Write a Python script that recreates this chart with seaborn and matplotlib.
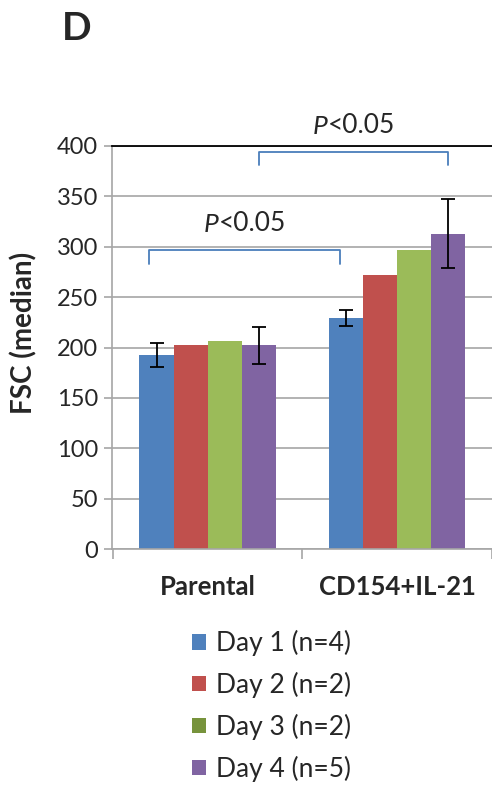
import matplotlib
matplotlib.use("Agg")
import matplotlib.pyplot as plt
import seaborn as sns
import pandas as pd
from matplotlib.patches import Patch
from matplotlib.transforms import offset_copy

sns.set_theme(style="white")
plt.rcParams['font.family'] = ['Lato', 'DejaVu Sans']

categories = ["Parental", "CD154+IL-21"]
days = ["Day 1 (n=4)", "Day 2 (n=2)", "Day 3 (n=2)", "Day 4 (n=5)"]
parental_vals = [192.5, 202, 206.5, 202]
cd154_vals = [229, 272, 296.5, 313]
parental_err = [11.5, 0, 0, 18]
cd154_err = [8, 0, 0, 34.5]
colors = ["#4F81BD", "#C0504D", "#9BBB59", "#8064A2"]
legend_colors = ["#4F81BD", "#C0504D", "#77933C", "#8064A2"]
yticks = [0, 50, 100, 150, 200, 250, 300, 350, 400]
sig_p, sig_rest = "P", "<0.05"
bracket1 = (296.5, 283)
bracket2 = (394, 381)

rows = []
for cat, vals, errs in [(categories[0], parental_vals, parental_err),
                        (categories[1], cd154_vals, cd154_err)]:
    for d, v, e in zip(days, vals, errs):
        rows.append({"group": cat, "day": d, "value": v, "err": e})
df = pd.DataFrame(rows)

fig = plt.figure(figsize=(4.92, 7.86), dpi=100)
ax = fig.add_axes([112/492, 1-549/786, 1-112/492, (549-146)/786])

sns.barplot(data=df, x="group", y="value", hue="day", palette=colors,
            width=0.72, errorbar=None, ax=ax, legend=False, saturation=1,
            linewidth=0)

# error bars
for i, d in enumerate(days):
    cont = ax.containers[i]
    for j, cat in enumerate(categories):
        row = df[(df.group == cat) & (df.day == d)].iloc[0]
        if row.err > 0:
            p = cont.patches[j]
            xc = p.get_x() + p.get_width() / 2
            ax.errorbar(xc, row.value, yerr=row.err, fmt="none", ecolor="black",
                        elinewidth=1.3, capsize=5, capthick=1.3, zorder=5)

ax.set_ylim(0, 400)
ax.set_xlim(-0.505, 1.454)
ax.set_yticks(yticks)
ax.set_yticklabels([str(t) for t in yticks], fontsize=17)
ax.yaxis.grid(True, color="#A6A6A6", linewidth=1.2)
ax.set_axisbelow(True)
ax.tick_params(axis="y", length=6, color="#A6A6A6", width=1.2, left=True, pad=4)

ax.set_xticks([-0.5, 0.5, 1.5])
ax.set_xticklabels([])
ax.tick_params(axis="x", length=7, color="#A6A6A6", width=1.2, bottom=True)
for j, cat in enumerate(categories):
    ax.text(j, -38, cat, ha="center", va="center", fontsize=18.5, fontweight="bold")

for s in ["left", "bottom"]:
    ax.spines[s].set_color("#A6A6A6")
    ax.spines[s].set_linewidth(1.2)
ax.spines["top"].set_color("black")
ax.spines["top"].set_linewidth(1.3)
ax.spines["right"].set_visible(False)

ax.set_xlabel("")
ax.set_ylabel("FSC (median)", fontsize=20, fontweight="bold")
ax.yaxis.set_label_coords(-0.195, 0.536)

# significance brackets
bc = "#4A7EBB"
p_par = [ax.containers[k].patches[0] for k in range(4)]
p_cd = [ax.containers[k].patches[1] for k in range(4)]
x1a = p_par[0].get_x() + 0.05
x1b = p_cd[0].get_x() + p_cd[0].get_width() / 2 - 0.03
x2a = p_par[3].get_x() + p_par[3].get_width() / 2
x2b = p_cd[3].get_x() + p_cd[3].get_width() / 2

renderer = fig.canvas.get_renderer()
for (xa, xb), (yh, yl) in [((x1a, x1b), bracket1), ((x2a, x2b), bracket2)]:
    ax.plot([xa, xa, xb, xb], [yl, yh, yh, yl], color=bc, linewidth=1.3,
            clip_on=False, solid_joinstyle="round")
    xc = (xa + xb) / 2
    tp = ax.text(xc, yh + 18, sig_p, ha="left", va="baseline", fontsize=19,
                 fontstyle="italic", clip_on=False)
    tr = ax.annotate(sig_rest, xy=(1, 0), xycoords=tp, xytext=(0.5, 0),
                     textcoords="offset points", ha="left", va="bottom",
                     fontsize=19, annotation_clip=False)
    w = (tp.get_window_extent(renderer).width +
         tr.get_window_extent(renderer).width + 0.5 * fig.dpi / 72)
    tp.set_transform(offset_copy(ax.transData, fig=fig, x=-w / 2, y=0, units="dots"))

fig.text(62/492, 1-28/786, "D", fontsize=28, fontweight="bold", ha="left", va="center")

handles = [Patch(facecolor=c, edgecolor="none") for c in legend_colors]
fig.legend(handles, days, loc="upper left", bbox_to_anchor=(192/492, 1-630/786),
           frameon=False, fontsize=19, handlelength=0.53, handleheight=0.53,
           handletextpad=0.38, labelspacing=0.6, borderaxespad=0, borderpad=0)

fig.savefig("out.png", dpi=100)
